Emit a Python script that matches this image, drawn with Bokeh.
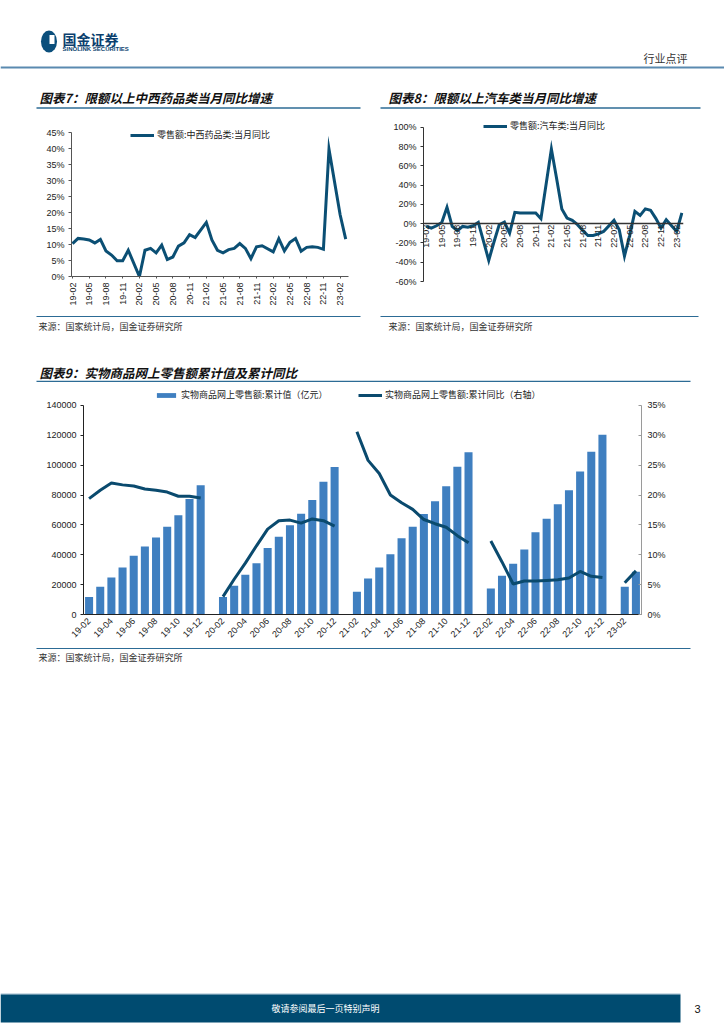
import math
from bokeh.plotting import figure
from bokeh.models import Range1d, LinearAxis, FixedTicker, Legend, LegendItem
from bokeh.layouts import column, row
from bokeh.embed import file_html
from bokeh.resources import INLINE
from bokeh.core.properties import value

# ---------------- data ----------------
months = ["19-02", "19-03", "19-04", "19-05", "19-06", "19-07", "19-08", "19-09", "19-10", "19-11", "19-12",
          "20-02", "20-03", "20-04", "20-05", "20-06", "20-07", "20-08", "20-09", "20-10", "20-11", "20-12",
          "21-02", "21-03", "21-04", "21-05", "21-06", "21-07", "21-08", "21-09", "21-10", "21-11", "21-12",
          "22-02", "22-03", "22-04", "22-05", "22-06", "22-07", "22-08", "22-09", "22-10", "22-11", "22-12",
          "23-02", "23-03"]

# 零售额:中西药品类:当月同比 (%)
med_yoy = [10.3, 11.9, 11.7, 11.4, 10.5, 11.6, 8.0, 6.7, 4.9, 4.9, 8.2,
           0.0, 8.2, 8.8, 7.4, 9.8, 5.3, 6.1, 9.5, 10.5, 13.1, 12.2,
           16.9, 11.4, 8.2, 7.4, 8.4, 8.8, 10.3, 8.8, 5.6, 9.3, 9.6,
           7.7, 11.8, 8.0, 10.7, 11.9, 7.9, 9.1, 9.3, 9.1, 8.5, 39.8,
           19.3, 11.7]

# 零售额:汽车类:当月同比 (%)
auto_yoy = [-2.5, -4.5, -2.1, 1.4, 17.1, -2.8, -7.3, -2.8, -3.5, -2.1, 1.4,
            -38.0, -19.0, -1.0, 1.7, -9.8, 11.9, 11.2, 11.2, 11.2, 11.2, 5.2,
            77.6, 47.0, 15.4, 5.9, 3.5, -1.0, -7.0, -12.2, -12.2, -10.5, -8.0,
            3.5, -6.3, -33.6, -12.0, 12.9, 8.7, 15.4, 14.0, 5.6, -4.5, 4.2,
            -8.0, 11.2]

# 实物商品网上零售额:累计值 (亿元)
online_cum = [11800, 18500, 24800, 31500, 39300, 45600, 51600, 58800, 66400, 77300, 86500,
              11800, 19200, 26600, 34400, 44500, 52100, 59700, 67500, 76700, 88900, 98800,
              15200, 24100, 31500, 40400, 51000, 58800, 67300, 75800, 85800, 99000, 108700,
              17400, 25900, 33900, 43600, 55000, 64100, 73800, 83200, 95700, 109000, 120400,
              18500, 28600]

# 实物商品网上零售额:累计同比 (%)
online_cum_yoy = [19.4, 20.8, 22.0, 21.7, 21.5, 21.0, 20.8, 20.5, 19.8, 19.8, 19.5,
                  3.0, 5.9, 8.6, 11.5, 14.3, 15.7, 15.8, 15.3, 16.0, 15.7, 14.8,
                  30.6, 25.8, 23.6, 20.0, 18.7, 17.6, 15.9, 15.2, 14.6, 13.2, 12.0,
                  12.3, 8.8, 5.1, 5.6, 5.6, 5.7, 5.8, 6.1, 7.2, 6.4, 6.2,
                  5.3, 7.3]

ticks_q = ["19-02", "19-05", "19-08", "19-11", "20-02", "20-05", "20-08", "20-11",
           "21-02", "21-05", "21-08", "21-11", "22-02", "22-05", "22-08", "22-11", "23-02"]
ticks_b = ["19-02", "19-04", "19-06", "19-08", "19-10", "19-12",
           "20-02", "20-04", "20-06", "20-08", "20-10", "20-12",
           "21-02", "21-04", "21-06", "21-08", "21-10", "21-12",
           "22-02", "22-04", "22-06", "22-08", "22-10", "22-12", "23-02"]
pct7_ticks = [0, 5, 10, 15, 20, 25, 30, 35, 40, 45]
pct8_ticks = [-60, -40, -20, 0, 20, 40, 60, 80, 100]
val9_ticks = [0, 20000, 40000, 60000, 80000, 100000, 120000, 140000]
pct9_ticks = [0, 5, 10, 15, 20, 25, 30, 35]

# ---------------- style ----------------
LINE_C = "#0b4f74"
BAR_C = "#3f7fc0"
RULE_C = "#2c6b95"
CJK = value("Noto Sans CJK SC")
NUM_FONT = "Liberation Sans"
TXT_C = "#222222"
W = 724


def midx(s):
    yy, mm = s.split("-")
    return (int(yy) - 19) * 12 + int(mm) - 1


xs = [midx(s) for s in months]


def canvas(w, h):
    p = figure(width=w, height=h, x_range=Range1d(0, w), y_range=Range1d(h, 0),
               min_border=0, toolbar_location=None, output_backend="svg",
               x_axis_location=None, y_axis_location=None)
    p.grid.visible = False
    p.outline_line_color = None
    p.background_fill_color = "white"
    p.border_fill_color = "white"
    return p


def style_axis(ax):
    ax.major_label_text_font = NUM_FONT
    ax.major_label_text_font_size = "9px"
    ax.major_label_text_color = TXT_C
    ax.minor_tick_line_color = None
    ax.major_tick_in = 0
    ax.major_tick_out = 3


def text(p, x, y, t, size="9px", color=TXT_C, style="normal", align="left", font=CJK):
    p.text(x=[x], y=[y], text=[t], text_font=font, text_font_size=size,
           text_font_style=style, text_color=color, text_align=align, text_baseline="middle")


def legend(p, label, r, loc, gh=10):
    lg = Legend(items=[LegendItem(label=label, renderers=[r])], location=loc,
                label_text_font="Noto Sans CJK SC", label_text_font_size="9px",
                label_text_color=TXT_C, glyph_width=24, glyph_height=gh,
                label_standoff=3, padding=0, margin=0, spacing=0,
                label_height=10, border_line_color=None, background_fill_alpha=0)
    p.add_layout(lg)


# ---------------- header canvas (page y 0..118) ----------------
hdr = canvas(W, 118)
hdr.ellipse(x=[48.5], y=[41], width=16, height=22, fill_color="#0b4f7c", line_color=None)
hdr.rect(x=[51.5], y=[39], width=5, height=9, fill_color="white", line_color=None)
text(hdr, 62, 38.5, "国金证券", size="14px", color="#0b3f6e", style="bold")
text(hdr, 62, 48, "SINOLINK SECURITIES", size="6px", color="#0b3f6e", style="bold",
     font=value("Liberation Sans"))
text(hdr, 643, 57, "行业点评", size="11px", color="#333333")
hdr.line(x=[0, W], y=[67, 67], line_color="#5a8ab0", line_width=2)
text(hdr, 39, 97, "图表7：限额以上中西药品类当月同比增速", size="12.5px", color="#111111",
     style="bold italic")
hdr.line(x=[36, 360], y=[107.5, 107.5], line_color=RULE_C, line_width=1.5)
text(hdr, 388, 97, "图表8：限额以上汽车类当月同比增速", size="12.5px", color="#111111",
     style="bold italic")
hdr.line(x=[380, 700], y=[107.5, 107.5], line_color=RULE_C, line_width=1.5)

# ---------------- chart 7 (page x 0..370, y 118..312) ----------------
p7 = figure(width=370, height=194, x_range=Range1d(0.82, 50.5), y_range=Range1d(0, 46.5625),
            min_border_left=71, min_border_right=22, min_border_top=9, min_border_bottom=36,
            toolbar_location=None, output_backend="svg")
p7.grid.visible = False
p7.outline_line_color = None
r7 = p7.line(x=xs, y=med_yoy, line_color=LINE_C, line_width=3, line_join="miter")
p7.yaxis.ticker = FixedTicker(ticks=pct7_ticks)
p7.yaxis.major_label_overrides = {v: f"{v}%" for v in pct7_ticks}
p7.yaxis.bounds = (0, 45)
p7.xaxis.ticker = FixedTicker(ticks=[midx(t) for t in ticks_q])
p7.xaxis.major_label_overrides = {midx(t): t for t in ticks_q}
p7.xaxis.major_label_orientation = math.pi / 2
for ax in (p7.xaxis[0], p7.yaxis[0]):
    style_axis(ax)
    ax.axis_line_color = "#555555"
    ax.major_tick_line_color = "#555555"
p7.yaxis.major_label_standoff = 4
p7.xaxis.major_tick_out = 2
p7.xaxis.major_label_standoff = 4
legend(p7, "零售额:中西药品类:当月同比", r7, (59, 135))

# ---------------- chart 8 (page x 370..724, y 118..312) ----------------
p8 = figure(width=354, height=194, x_range=Range1d(0.5, 50.31), y_range=Range1d(-60, 108.3),
            min_border_left=53, min_border_right=41, min_border_top=1, min_border_bottom=31,
            toolbar_location=None, output_backend="svg")
p8.grid.visible = False
p8.outline_line_color = None
r8 = p8.line(x=xs, y=auto_yoy, line_color=LINE_C, line_width=3, line_join="miter")
p8.yaxis.ticker = FixedTicker(ticks=pct8_ticks)
p8.yaxis.major_label_overrides = {v: f"{v}%" for v in pct8_ticks}
p8.yaxis.bounds = (-60, 100)
p8.xaxis.ticker = FixedTicker(ticks=[midx(t) for t in ticks_q])
p8.xaxis.major_label_overrides = {midx(t): t for t in ticks_q}
p8.xaxis.major_label_orientation = math.pi / 2
p8.xaxis.fixed_location = 0
for ax in (p8.xaxis[0], p8.yaxis[0]):
    style_axis(ax)
    ax.axis_line_color = "#333333"
    ax.major_tick_line_color = "#333333"
p8.xaxis.axis_line_width = 1.5
p8.xaxis.major_tick_out = 0
p8.xaxis.major_label_standoff = 1
p8.yaxis.major_label_standoff = 4
legend(p8, "零售额:汽车类:当月同比", r8, (60, 149))

# ---------------- middle canvas (page y 312..382) ----------------
mid = canvas(W, 70)
mid.line(x=[36, 360], y=[4, 4], line_color=RULE_C, line_width=1.2)
mid.line(x=[380, 698], y=[4, 4], line_color=RULE_C, line_width=1.2)
text(mid, 38, 13.5, "来源：国家统计局，国金证券研究所", size="9px", color="#333333")
text(mid, 388, 13.5, "来源：国家统计局，国金证券研究所", size="9px", color="#333333")
text(mid, 39, 60, "图表9：实物商品网上零售额累计值及累计同比", size="12.5px", color="#111111",
     style="bold italic")
mid.line(x=[36, 690], y=[69, 69], line_color=RULE_C, line_width=1.5)

# ---------------- chart 9 (page y 382..645) ----------------
p9 = figure(width=W, height=263, x_range=Range1d(0.5, 50.5), y_range=Range1d(0, 152000),
            min_border_left=83, min_border_right=83, min_border_top=5, min_border_bottom=31,
            toolbar_location=None, output_backend="svg")
p9.grid.visible = False
p9.outline_line_color = None
p9.extra_y_ranges = {"pct": Range1d(0, 38)}
rb = p9.vbar(x=xs, top=online_cum, width=0.72, fill_color=BAR_C, line_color=None)

years = sorted(set(s[:2] for s in months))
line_xs = [[midx(s) for s in months if s[:2] == yy] for yy in years]
line_ys = [[v for s, v in zip(months, online_cum_yoy) if s[:2] == yy] for yy in years]
rl = p9.multi_line(xs=line_xs, ys=line_ys, line_color="#0a4a6e", line_width=3,
                   y_range_name="pct")

p9.yaxis.ticker = FixedTicker(ticks=val9_ticks)
p9.yaxis.major_label_overrides = {v: str(v) for v in val9_ticks}
p9.yaxis.bounds = (0, 140000)
p9.xaxis.ticker = FixedTicker(ticks=[midx(t) for t in ticks_b])
p9.xaxis.major_label_overrides = {midx(t): t for t in ticks_b}
p9.xaxis.major_label_orientation = math.pi / 4
right = LinearAxis(y_range_name="pct", ticker=FixedTicker(ticks=pct9_ticks),
                   major_label_overrides={v: f"{v}%" for v in pct9_ticks}, bounds=(0, 35))
p9.add_layout(right, "right")
for ax in (p9.xaxis[0], p9.yaxis[0]):
    style_axis(ax)
    ax.axis_line_color = "#222222"
    ax.major_tick_line_color = "#222222"
style_axis(right)
right.axis_line_color = "#9a9a9a"
right.major_tick_line_color = "#9a9a9a"
right.major_tick_in = 3
right.major_tick_out = 0
right.major_label_standoff = 6
p9.yaxis[0].major_label_standoff = 4
p9.xaxis.major_tick_out = 0
p9.xaxis.major_label_standoff = 5
legend(p9, "实物商品网上零售额:累计值（亿元）", rb, (71, 213), gh=6)
legend(p9, "实物商品网上零售额:累计同比（右轴）", rl, (275, 213))

# ---------------- bottom canvas (page y 645..1024) ----------------
bot = canvas(W, 379)
bot.line(x=[36, 690], y=[3, 3], line_color=RULE_C, line_width=1.2)
text(bot, 38, 12, "来源：国家统计局，国金证券研究所", size="9px", color="#333333")
bot.line(x=[0, 680], y=[348.5, 348.5], line_color="#9bb8cc", line_width=1)
bot.quad(left=[0], right=[680], top=[349], bottom=[377], fill_color="#004b70", line_color=None)
text(bot, 325, 363, "敬请参阅最后一页特别声明", size="9px", color="white", align="center")
text(bot, 697, 363, "3", size="11px", color="#111111", align="center",
     font=value("Liberation Sans"))

page = column(row(hdr), row(column(p7), column(p8)), row(mid), row(p9), row(bot))
open("out.html", "w").write(file_html(page, INLINE))
